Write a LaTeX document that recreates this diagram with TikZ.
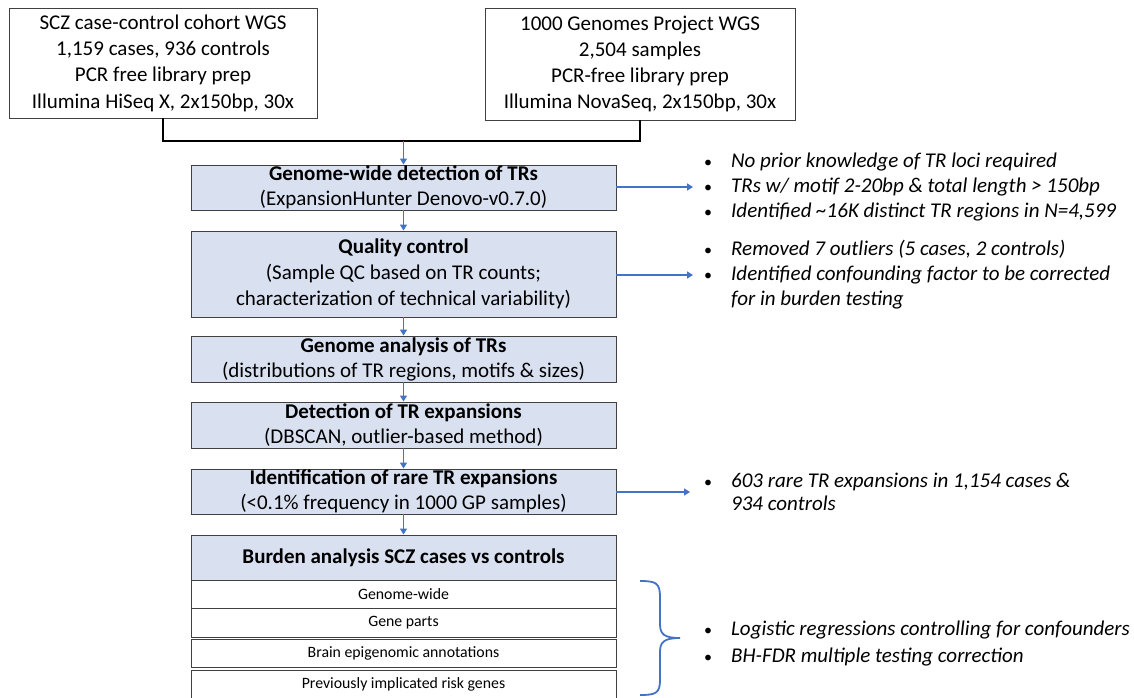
\documentclass[tikz,border=0pt]{standalone}
\usepackage{fontspec}
\setmainfont{Carlito}
\usetikzlibrary{arrows.meta}
\definecolor{boxfill}{RGB}{217,224,240}
\definecolor{arrblue}{RGB}{68,114,196}
\definecolor{edgegray}{RGB}{64,64,64}
\tikzset{
  srcbox/.style={draw=edgegray, line width=0.9pt, fill=white, align=center, inner sep=0pt,
     font=\fontsize{21}{26.3}\selectfont},
  stepbox/.style={draw=edgegray, line width=0.9pt, fill=boxfill, align=center, inner sep=0pt,
     minimum width=425pt, font=\fontsize{21}{25}\selectfont},
  rowbox/.style={draw=edgegray, line width=0.8pt, fill=white, align=center, inner sep=0pt,
     minimum width=425pt, font=\fontsize{15.8}{17}\selectfont},
  flow/.style={draw=arrblue, line width=1.8pt, -{Triangle[length=6pt,width=7pt]}},
  joinline/.style={draw=black, line width=2pt},
  notes/.style={anchor=west, inner sep=0pt, align=left,
     font=\fontsize{21}{25}\selectfont\itshape},
  bracestyle/.style={draw=arrblue, line width=1.8pt},
}
\newcommand{\bul}{{\upshape\fontsize{16}{16}\selectfont •}}
\begin{document}
\begin{tikzpicture}[x=1pt,y=-1pt]
\useasboundingbox (0,0) rectangle (1134,697);

% source boxes
\node[srcbox, minimum width=308pt, minimum height=110pt] (src1) at (163,63)
  {SCZ case-control cohort WGS\\1,159 cases, 936 controls\\PCR free library prep\\Illumina HiSeq X, 2x150bp, 30x};
\node[srcbox, minimum width=310pt, minimum height=112pt] (src2) at (640,64)
  {1000 Genomes Project WGS\\2,504 samples\\PCR-free library prep\\Illumina NovaSeq, 2x150bp, 30x};

% steps
\node[stepbox, minimum height=45pt] (detect) at (403.5,187.5)
  {\textbf{Genome-wide detection of TRs}\\(ExpansionHunter Denovo-v0.7.0)};
\node[stepbox, minimum height=86pt, font=\fontsize{21}{26}\selectfont] (qc) at (403.5,274)
  {\textbf{Quality control}\\(Sample QC based on TR counts;\\characterization of technical variability)};
\node[stepbox, minimum height=46pt] (genome) at (403.5,359)
  {\textbf{Genome analysis of TRs}\\(distributions of TR regions, motifs \& sizes)};
\node[stepbox, minimum height=46pt] (expan) at (403.5,425)
  {\textbf{Detection of TR expansions}\\(DBSCAN, outlier-based method)};
\node[stepbox, minimum height=45pt] (rare) at (403.5,491.5)
  {\textbf{Identification of rare TR expansions}\\(<0.1\% frequency in 1000 GP samples)};
\node[stepbox, minimum height=45pt, font=\fontsize{21}{24}\selectfont\bfseries] (burden) at (403.5,557.5)
  {Burden analysis SCZ cases vs controls};

% burden rows
\node[rowbox, minimum height=28pt] (r1) at (403.5,594) {Genome-wide};
\node[rowbox, minimum height=29pt] (r2) at (403.5,622.5) {Gene parts};
\node[rowbox, minimum height=28pt] (r3) at (403.5,653) {Brain epigenomic annotations};
\node[rowbox, minimum height=29pt] (r4) at (403.5,684.5) {Previously implicated risk genes};

% joining line of the two sources
\coordinate (j1) at (163,141);
\coordinate (j2) at (640,141);
\coordinate (jm) at (403.5,141);
\draw[joinline] (src1.south) -- (j1) -- (j2) -- (src2.south);
\draw[flow] (jm) -- (detect.north);
\draw[flow] (detect) -- (qc);
\draw[flow] (qc) -- (genome);
\draw[flow] (genome) -- (expan);
\draw[flow] (expan) -- (rare);
\draw[flow] (rare) -- (burden);

% notes
\node[notes] (n1) at (704,187) {%
  \begin{tabular}{@{}l@{\hspace{19pt}}l@{}}
  \bul & No prior knowledge of TR loci required\\
  \bul & TRs w/ motif 2-20bp \& total length > 150bp\\
  \bul & Identified \textasciitilde 16K distinct TR regions in N=4,599
  \end{tabular}};
\node[notes] (n2) at (704,275) {%
  \begin{tabular}{@{}l@{\hspace{19pt}}l@{}}
  \bul & Removed 7 outliers (5 cases, 2 controls)\\
  \bul & Identified confounding factor to be corrected\\
       & for in burden testing
  \end{tabular}};
\node[notes, font=\fontsize{21}{23}\selectfont\itshape] (n3) at (704,494) {%
  \begin{tabular}{@{}l@{\hspace{19pt}}l@{}}
  \bul & 603 rare TR expansions in 1,154 cases \&\\
       & 934 controls
  \end{tabular}};
\node[notes, font=\fontsize{21}{27}\selectfont\itshape] (n4) at (704,644) {%
  \begin{tabular}{@{}l@{\hspace{19pt}}l@{}}
  \bul & Logistic regressions controlling for confounders\\
  \bul & BH-FDR multiple testing correction
  \end{tabular}};

\coordinate (t1) at (693,187);
\coordinate (t2) at (693,275);
\coordinate (t3) at (690,492);
\draw[flow] (detect.east |- t1) -- (t1);
\draw[flow] (qc.east |- t2) -- (t2);
\draw[flow] (rare.east |- t3) -- (t3);

% brace
\draw[bracestyle] (640,581) .. controls (656,581) and (660,583) .. (660,597)
  -- (660,624) .. controls (660,634) and (664,638) .. (680,638)
  .. controls (664,638) and (660,642) .. (660,652)
  -- (660,680) .. controls (660,693) and (656,695) .. (640,695);
\end{tikzpicture}
\end{document}
